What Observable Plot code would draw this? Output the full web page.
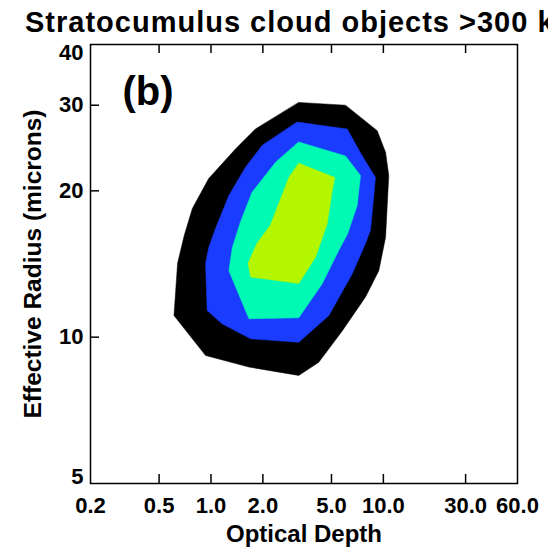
<!DOCTYPE html>
<html>
<head>
<meta charset="utf-8">
<script src="https://cdn.jsdelivr.net/npm/d3@7"></script>
<script src="https://cdn.jsdelivr.net/npm/@observablehq/plot@0.6"></script>
<style>
  body { margin: 0; background: #fff; }
  #title {
    width: 548px; height: 40px; box-sizing: border-box;
    padding: 8px 0 0 25px;
    font: bold 29px "Liberation Sans", Arial, sans-serif; line-height: 29px;
    letter-spacing: 1px;
    white-space: nowrap; overflow: hidden; color: #000;
  }
</style>
</head>
<body>
<div id="title">Stratocumulus cloud objects &gt;300 km</div>
<div id="chart"></div>
<script>
// Joint frequency contours of optical depth (tau) and effective radius (re, microns).
// Each ring is a closed polygon of [tau, re] vertices, outermost first.
const ringOuter = [[3.23,30.4],[6.03,30.0],[9.21,26.6],[10.3,24.0],[10.75,21.5],[10.3,16.05],[9.41,13.7],[7.88,12.1],[5.77,10.3],[4.22,8.88],[3.23,8.34],[1.66,8.68],[0.93,9.17],[0.61,11.08],[0.64,14.2],[0.70,16.2],[0.78,18.4],[0.97,21.2],[1.39,24.4],[1.81,26.8]];
const ringSecond = [[3.16,27.7],[6.17,26.8],[7.54,23.6],[9.00,21.3],[8.42,16.6],[7.88,15.6],[6.60,13.5],[4.83,11.08],[3.23,9.76],[1.70,9.92],[1.16,10.65],[0.95,11.34],[0.93,14.16],[0.97,15.3],[1.06,16.7],[1.27,19.56],[1.59,22.4],[1.98,24.8]];
const ringThird = [[3.23,25.2],[6.03,23.6],[7.37,21.5],[7.05,18.66],[6.2,16.3],[5.51,15.08],[4.42,12.88],[3.23,10.96],[1.66,10.91],[1.27,13.7],[1.33,15.3],[1.48,17.24],[1.73,19.87],[2.37,22.9]];
const ringCore = [[3.23,22.8],[5.23,21.3],[5.05,20.0],[4.72,17.1],[4.04,14.6],[3.23,12.9],[1.70,13.3],[1.64,14.2],[1.85,15.6],[2.21,17.0],[2.83,21.3]];

const rings = [ringOuter, ringSecond, ringThird, ringCore];
const ringColors = ["#000000", "#1a3cff", "#00fab4", "#b4f500"];

// Axis ticks and labels
const xTickLabels = [0.2, 0.5, 1, 2, 5, 10, 30, 60];
const xInnerTicks = [0.5, 1, 2, 5, 10, 30];
const yTickLabels = [5, 10, 20, 30, 40];
const yInnerTicks = [10, 20, 30];

const font = '"Liberation Sans", Arial, sans-serif';
const frameW = 548 - 90 - 31;
const frameH = 509 - 4 - 66;
const tickLen = 9;

const ringMarks = rings.map((ring, i) =>
  Plot.line(ring.map(([tau, re]) => ({tau, re})), {
    x: "tau", y: "re", curve: "linear-closed",
    fill: ringColors[i], stroke: ringColors[i], strokeWidth: 0.5
  })
);

const chart = Plot.plot({
  width: 548,
  height: 509,
  marginLeft: 90,
  marginRight: 31,
  marginTop: 4,
  marginBottom: 66,
  style: {fontFamily: font, background: "white", color: "black", overflow: "visible"},
  x: {type: "log", domain: [0.2, 60], axis: null},
  y: {type: "log", domain: [5, 40], axis: null},
  marks: [
    ...ringMarks,
    // inward ticks: bottom, top, left
    Plot.ruleX(xInnerTicks, {x: d => d, insetTop: frameH - tickLen, stroke: "black", strokeWidth: 1.5}),
    Plot.ruleX(xInnerTicks, {x: d => d, insetBottom: frameH - tickLen, stroke: "black", strokeWidth: 1.5}),
    Plot.ruleY(yInnerTicks, {y: d => d, insetRight: frameW - tickLen, stroke: "black", strokeWidth: 1.5}),
    Plot.frame({stroke: "black", strokeWidth: 1.5}),
    // tick labels
    Plot.text(xTickLabels, {
      x: d => d, text: d => d3.format(".1f")(d),
      frameAnchor: "bottom", lineAnchor: "top", dy: 14,
      fontSize: 22, fontWeight: "bold", fill: "black"
    }),
    Plot.text(yTickLabels.filter(d => d !== 5 && d !== 40), {
      y: d => d, text: d => String(d),
      frameAnchor: "left", textAnchor: "end", dx: -7,
      fontSize: 22, fontWeight: "bold", fill: "black"
    }),
    Plot.text(yTickLabels.filter(d => d === 5), {
      y: d => d, text: d => String(d),
      frameAnchor: "left", textAnchor: "end", lineAnchor: "bottom", dx: -7,
      fontSize: 22, fontWeight: "bold", fill: "black"
    }),
    Plot.text(yTickLabels.filter(d => d === 40), {
      y: d => d, text: d => String(d),
      frameAnchor: "left", textAnchor: "end", lineAnchor: "top", dx: -7,
      fontSize: 22, fontWeight: "bold", fill: "black"
    }),
    // panel tag
    Plot.text(["(b)"], {
      frameAnchor: "top-left", textAnchor: "start", lineAnchor: "bottom",
      dx: 32, dy: 60, fontSize: 40, fontWeight: "bold", fill: "black"
    }),
    // axis titles
    Plot.text(["Optical Depth"], {
      frameAnchor: "bottom", textAnchor: "middle", lineAnchor: "bottom", dy: 58,
      fontSize: 24, fontWeight: "bold", fill: "black"
    }),
    Plot.text(["Effective Radius (microns)"], {
      frameAnchor: "left", textAnchor: "middle", lineAnchor: "bottom", rotate: -90, dx: -50,
      fontSize: 24.5, fontWeight: "bold", fill: "black"
    })
  ]
});

document.getElementById("chart").appendChild(chart);
</script>
</body>
</html>
